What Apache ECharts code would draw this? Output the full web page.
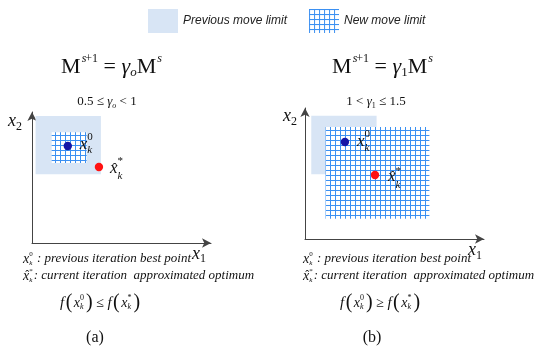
<!DOCTYPE html>
<html><head><meta charset="utf-8">
<script src="https://cdn.jsdelivr.net/npm/echarts@6/dist/echarts.min.js"></script>
<style>html,body{margin:0;padding:0;background:#fff}#c{width:539px;height:360px}</style>
</head><body><div id="c"></div>
<script>
// ---------- data ----------
const legendNames = ['Previous move limit', 'New move limit'];
const panelLabels = ['(a)', '(b)'];
// move limit rectangles: [x1 min, x1 max, x2 min, x2 max]
const prevLimitA = [0.2, 3.85, 5.25, 9.7];
const newLimitA  = [1.1, 3.05, 6.1, 8.45];
const prevLimitB = [0.35, 4.0, 4.95, 9.4];
const newLimitB  = [1.15, 6.95, 1.55, 8.55];
// points: [x1, x2]  (best point x_k^0, approximated optimum x̂_k^*)
const pointsA = [[2.0, 7.4], [3.74, 5.8]];
const pointsB = [[2.23, 7.4], [3.91, 4.89]];
const gammaSubs = ['o', '1'];
const gammaRanges = [['0.5 ≤ ', ' < 1'], ['1 < ', ' ≤ 1.5']];
const relations = ['≤', '≥'];
const descriptions = [' : previous iteration best point', ': current iteration  approximated optimum'];

// ---------- helpers ----------
const SERIF = 'Liberation Serif';
const BLUE_DOT = '#1616a6', RED_DOT = '#ff1212', LIGHT = '#d8e5f5', GRIDLINE = '#3b90f2';
const mctx = document.createElement('canvas').getContext('2d');
function tw(t, s, i) { mctx.font = (i ? 'italic ' : '') + s + 'px "' + SERIF + '"'; return mctx.measureText(t).width; }
function txt(text, x, y, s, i, extra) {
  return Object.assign({type: 'text', x: x, y: y, silent: true,
    style: {text: text, fontSize: s, fontFamily: SERIF, fontStyle: i ? 'italic' : 'normal',
            fill: '#111', align: 'left', verticalAlign: 'middle'}}, extra || {});
}
function seq(tokens, x, y, align) {
  const widths = tokens.map(k => k.stack
    ? Math.max(tw(k.sup || '', k.s, k.supI), tw(k.sub || '', k.s, k.subI)) + (k.gap || 0)
    : tw(k.t, k.s, k.i) + (k.gap || 0));
  const total = widths.reduce((a, b) => a + b, 0);
  let cx = align === 'center' ? x - total / 2 : x;
  const els = [];
  tokens.forEach((k, idx) => {
    const px = cx + (k.dx || 0);
    if (k.stack) {
      if (k.sup) els.push(txt(k.sup, px, y + k.up, k.s, k.supI));
      if (k.sub) els.push(txt(k.sub, px, y + k.down, k.s, k.subI));
    } else {
      els.push(txt(k.t, px, y + (k.dy || 0), k.s, k.i));
      if (k.hat) {
        const e = txt('ˆ', px + tw(k.t, k.s, k.i) / 2 + 1, y + k.s * 0.02, k.s * 0.85, false);
        e.style.align = 'center';
        els.push(e);
      }
    }
    cx += widths[idx];
  });
  return els;
}

// grid pattern canvas
const pc = document.createElement('canvas');
pc.width = 5; pc.height = 5;
const pctx = pc.getContext('2d');
pctx.fillStyle = '#ffffff'; pctx.fillRect(0, 0, 5, 5);
pctx.fillStyle = GRIDLINE; pctx.fillRect(0, 0, 5, 1); pctx.fillRect(0, 0, 1, 5);
const GRID_FILL = {image: pc, repeat: 'repeat'};

// ---------- text layout ----------
const graphics = [];
const panelX = [0, 1];
const formulaCX = [111, 382], rangeCX = [107, 376], descX = [23, 303], fX = [60, 340], labelCX = [95, 372];
panelX.forEach(p => {
  graphics.push(...seq([
    {t: 'M', s: 22}, {t: 's', s: 12, i: true, dy: -8, dx: 1}, {t: '+1', s: 12, dy: -8},
    {t: ' = ', s: 22}, {t: 'γ', s: 22, i: true}, {t: gammaSubs[p], s: 13, i: p === 0, dy: 6},
    {t: 'M', s: 22}, {t: 's', s: 12, i: true, dy: -8, dx: 1}
  ], formulaCX[p], 67, 'center'));
  graphics.push(...seq([
    {t: gammaRanges[p][0], s: 13}, {t: 'γ', s: 13, i: true}, {t: gammaSubs[p], s: 8, i: p === 0, dy: 4},
    {t: gammaRanges[p][1], s: 13}
  ], rangeCX[p], 102, 'center'));
  graphics.push(...seq([
    {t: 'x', s: 14, i: true}, {stack: true, sup: '0', sub: 'k', s: 7, subI: true, up: -5, down: 4, gap: 1},
    {t: descriptions[0], s: 13, i: true}
  ], descX[p], 259, 'left'));
  graphics.push(...seq([
    {t: 'x', s: 14, i: true, hat: true}, {stack: true, sup: '*', sub: 'k', s: 7, subI: true, up: -5, down: 4, gap: 1},
    {t: descriptions[1], s: 13, i: true}
  ], descX[p], 276, 'left'));
  graphics.push(...seq([
    {t: 'f', s: 15, i: true, gap: 1.5}, {t: '(', s: 20, gap: 1.5}, {t: 'x', s: 14, i: true},
    {stack: true, sup: '0', sub: 'k', s: 8, subI: true, up: -5, down: 4, gap: 2}, {t: ')', s: 20},
    {t: ' ' + relations[p] + ' ', s: 14}, {t: 'f', s: 15, i: true, gap: 1.5}, {t: '(', s: 20, gap: 1.5},
    {t: 'x', s: 14, i: true}, {stack: true, sup: '*', sub: 'k', s: 8, subI: true, up: -5, down: 4, gap: 2},
    {t: ')', s: 20}
  ], fX[p], 303, 'left'));
  graphics.push(...seq([{t: panelLabels[p], s: 16}], labelCX[p], 338, 'center'));
});
// axis names
graphics.push(...seq([{t: 'x', s: 18, i: true}, {t: '2', s: 12, dy: 6}], 8, 121, 'left'));
graphics.push(...seq([{t: 'x', s: 18, i: true}, {t: '2', s: 12, dy: 6}], 283, 116, 'left'));
graphics.push(...seq([{t: 'x', s: 18, i: true}, {t: '1', s: 12, dy: 5}], 192, 254, 'left'));
graphics.push(...seq([{t: 'x', s: 18, i: true}, {t: '1', s: 12, dy: 6}], 468, 250, 'left'));

// ---------- series ----------
function rectRender(fill) {
  return function (params, api) {
    const p0 = api.coord([api.value(0), api.value(3)]);
    const p1 = api.coord([api.value(1), api.value(2)]);
    return {type: 'rect', shape: {x: p0[0], y: p0[1], width: p1[0] - p0[0], height: p1[1] - p0[1]},
            style: {fill: fill}};
  };
}
// label layout per panel/point: [dx, dy, up, down]
const labelStyle = [
  [[12, -2, -7, 6], [11, 2, -8, 7]],
  [[12, -1, -7, 7], [13, 2, -6, 8]]
];
function pointRender(panel) {
  return function (params, api) {
    const c = api.coord([api.value(0), api.value(1)]);
    const idx = params.dataIndex;
    const L = labelStyle[panel][idx];
    const children = [{type: 'circle', shape: {cx: 0, cy: 0, r: 4.2}, style: {fill: idx === 0 ? BLUE_DOT : RED_DOT}}];
    children.push(...seq([
      {t: 'x', s: 17, i: true, hat: idx === 1},
      {stack: true, sup: idx === 0 ? '0' : '*', sub: 'k', s: 11, subI: true, up: L[2], down: L[3]}
    ], L[0], L[1], 'left'));
    return {type: 'group', x: c[0], y: c[1], children: children};
  };
}
function axisCommon(idx) {
  return {type: 'value', gridIndex: idx, min: 0, max: 10,
    axisLine: {show: true, symbol: ['none', 'arrow'], symbolSize: [7, 9], lineStyle: {color: '#444', width: 1}},
    axisTick: {show: false}, axisLabel: {show: false}, splitLine: {show: false}};
}

const chart = echarts.init(document.getElementById('c'), null, {renderer: 'canvas'});
chart.setOption({
  animation: false,
  backgroundColor: '#fff',
  legend: {
    left: 143, top: 4, itemWidth: 30, itemHeight: 24, itemGap: 22, selectedMode: false,
    textStyle: {fontStyle: 'italic', fontSize: 12, fontFamily: 'Liberation Sans', color: '#222'},
    data: [
      {name: legendNames[0], icon: 'rect', itemStyle: {color: LIGHT}},
      {name: legendNames[1], icon: 'rect', itemStyle: {color: GRID_FILL}}
    ]
  },
  grid: [
    {left: 32, top: 112, width: 179, height: 131},
    {left: 305, top: 108, width: 179, height: 131}
  ],
  xAxis: [axisCommon(0), axisCommon(1)],
  yAxis: [axisCommon(0), axisCommon(1)],
  graphic: {elements: graphics},
  series: [
    {type: 'custom', name: legendNames[0], xAxisIndex: 0, yAxisIndex: 0, data: [prevLimitA], encode: {x: [0, 1], y: [2, 3]}, renderItem: rectRender(LIGHT), itemStyle: {color: LIGHT}},
    {type: 'custom', name: legendNames[1], xAxisIndex: 0, yAxisIndex: 0, data: [newLimitA], encode: {x: [0, 1], y: [2, 3]}, renderItem: rectRender(GRID_FILL), itemStyle: {color: GRID_FILL}},
    {type: 'custom', name: legendNames[0], xAxisIndex: 1, yAxisIndex: 1, data: [prevLimitB], encode: {x: [0, 1], y: [2, 3]}, renderItem: rectRender(LIGHT), itemStyle: {color: LIGHT}},
    {type: 'custom', name: legendNames[1], xAxisIndex: 1, yAxisIndex: 1, data: [newLimitB], encode: {x: [0, 1], y: [2, 3]}, renderItem: rectRender(GRID_FILL), itemStyle: {color: GRID_FILL}},
    {type: 'custom', name: 'pointsA', xAxisIndex: 0, yAxisIndex: 0, data: pointsA, encode: {x: 0, y: 1}, renderItem: pointRender(0)},
    {type: 'custom', name: 'pointsB', xAxisIndex: 1, yAxisIndex: 1, data: pointsB, encode: {x: 0, y: 1}, renderItem: pointRender(1)}
  ]
});
</script>
</body></html>
